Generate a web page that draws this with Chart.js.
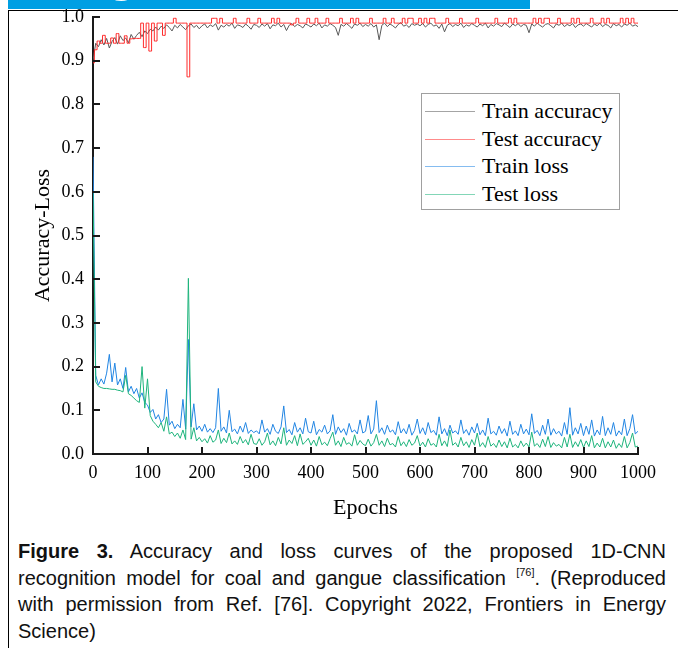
<!DOCTYPE html>
<html>
<head>
<meta charset="utf-8">
<script src="https://cdn.jsdelivr.net/npm/chart.js@4.4.0/dist/chart.umd.min.js"></script>
<style>
  body { margin:0; width:678px; height:648px; background:#fff; position:relative; overflow:hidden; }
  #band { position:absolute; left:8px; top:0; width:522px; height:9px; background:#009fe3; overflow:hidden; z-index:2; }
  #band span { position:absolute; left:96px; top:-66px; font:64px/1 'Liberation Sans', Arial, sans-serif; color:#fff; }
  .rule { position:absolute; background:#000; z-index:2; }
  #chartBox { position:absolute; left:0; top:0; width:678px; height:530px; }
  #legend { position:absolute; left:421px; top:93px; width:197px; height:115px; border:1px solid #a0a0a0; background:#fff;
            font:22px 'Liberation Serif', 'Times New Roman', serif; color:#000; }
  #legend .row { position:absolute; left:0; height:26px; line-height:26px; white-space:nowrap; }
  #legend .smp { position:absolute; left:3px; top:13px; width:50px; height:1px; }
  #legend .txt { position:absolute; left:60px; top:0; }
  #caption { position:absolute; left:18px; top:538px; width:648px; font:20px 'Liberation Sans', Arial, sans-serif; line-height:26.5px; color:#111; }
  #caption .ln { text-align:justify; text-align-last:justify; }
  #caption sup { font-size:11px; line-height:0; vertical-align:9px; }
</style>
</head>
<body>
<div id="band"><span>g</span></div>
<div class="rule" style="left:8px;top:10px;width:670px;height:1px"></div>
<div class="rule" style="left:8px;top:10px;width:1px;height:638px"></div>
<div id="chartBox"><canvas id="accLossChart" width="678" height="530"></canvas></div>
<div id="legend"></div>
<div id="caption">
  <div class="ln"><b>Figure 3.</b> Accuracy and loss curves of the proposed 1D-CNN</div>
  <div class="ln">recognition model for coal and gangue classification <sup>[76]</sup>. (Reproduced</div>
  <div class="ln">with permission from Ref. [76]. Copyright 2022, Frontiers in Energy</div>
  <div>Science)</div>
</div>

<script>
// ================================================================
// Accuracy / loss curves — one value every 5 epochs (0 … 1000)
// ================================================================

const EPOCH_STEP = 5;
const SERIES_NAMES = ['Train accuracy', 'Test accuracy', 'Train loss', 'Test loss'];
const SERIES_COLORS = ['#595959', '#ff2b2b', '#2185e3', '#1eb47c'];
const X_TICK_STEP = 100;
const Y_TICK_STEP = 0.1;

const TRAIN_ACC = [
  0.900, 0.940, 0.932, 0.948, 0.936, 0.951, 0.929, 0.944, 0.953, 0.938, 0.957, 0.946, 0.952, 0.941, 0.960, 0.949, 0.958, 0.965, 0.955, 0.968,
  0.962, 0.972, 0.968, 0.977, 0.970, 0.979, 0.974, 0.982, 0.976, 0.968, 0.981, 0.975, 0.983, 0.977, 0.971, 0.980, 0.984, 0.976, 0.981, 0.973,
  0.980, 0.984, 0.975, 0.982, 0.978, 0.985, 0.970, 0.981, 0.977, 0.983, 0.979, 0.986, 0.974, 0.982, 0.980, 0.976, 0.984, 0.979, 0.972, 0.983,
  0.981, 0.976, 0.984, 0.979, 0.985, 0.973, 0.982, 0.980, 0.986, 0.977, 0.983, 0.969, 0.981, 0.985, 0.978, 0.983, 0.980, 0.975, 0.984, 0.981,
  0.977, 0.984, 0.980, 0.986, 0.975, 0.982, 0.979, 0.985, 0.981, 0.976, 0.958, 0.983, 0.979, 0.985, 0.980, 0.974, 0.984, 0.981, 0.986, 0.978,
  0.983, 0.979, 0.985, 0.977, 0.982, 0.948, 0.981, 0.986, 0.978, 0.984, 0.980, 0.975, 0.983, 0.987, 0.979, 0.982, 0.976, 0.985, 0.981, 0.984,
  0.980, 0.985, 0.977, 0.983, 0.986, 0.979, 0.982, 0.974, 0.984, 0.966, 0.981, 0.985, 0.978, 0.983, 0.980, 0.986, 0.976, 0.982, 0.979, 0.985,
  0.981, 0.977, 0.984, 0.980, 0.986, 0.975, 0.983, 0.979, 0.985, 0.982, 0.978, 0.986, 0.981, 0.976, 0.984, 0.980, 0.985, 0.978, 0.983, 0.981,
  0.964, 0.984, 0.979, 0.986, 0.981, 0.977, 0.983, 0.985, 0.980, 0.975, 0.984, 0.981, 0.986, 0.978, 0.983, 0.980, 0.985, 0.976, 0.982, 0.984,
  0.979, 0.985, 0.981, 0.977, 0.984, 0.980, 0.986, 0.978, 0.983, 0.981, 0.975, 0.985, 0.980, 0.983, 0.977, 0.984, 0.981, 0.986, 0.979, 0.982,
  0.978
];

const TEST_ACC = [
  0.895, 0.925, 0.945, 0.940, 0.958, 0.940, 0.940, 0.952, 0.940, 0.962, 0.940, 0.940, 0.957, 0.940, 0.950, 0.951, 0.951, 0.951, 0.986, 0.930,
  0.986, 0.922, 0.986, 0.945, 0.986, 0.986, 0.958, 0.986, 0.986, 0.986, 0.997, 0.986, 0.986, 0.986, 0.986, 0.863, 0.986, 0.986, 0.986, 0.986,
  0.986, 0.986, 0.986, 0.986, 0.997, 0.997, 0.986, 0.997, 0.986, 0.986, 0.986, 0.986, 0.997, 0.986, 0.986, 0.986, 0.986, 0.997, 0.986, 0.986,
  0.986, 0.997, 0.986, 0.986, 0.986, 0.986, 0.997, 0.986, 0.997, 0.986, 0.986, 0.986, 0.986, 0.982, 0.986, 0.997, 0.986, 0.986, 0.986, 0.997,
  0.986, 0.986, 0.997, 0.986, 0.986, 0.986, 0.997, 0.986, 0.986, 0.986, 0.986, 0.997, 0.986, 0.986, 0.986, 0.997, 0.986, 0.997, 0.986, 0.986,
  0.986, 0.986, 0.997, 0.986, 0.986, 0.986, 0.986, 0.997, 0.986, 0.986, 0.997, 0.986, 0.986, 0.986, 0.997, 0.986, 0.997, 0.997, 0.986, 0.986,
  0.997, 0.986, 0.997, 0.986, 0.997, 0.997, 0.986, 0.986, 0.986, 0.986, 0.997, 0.986, 0.986, 0.986, 0.986, 0.997, 0.986, 0.986, 0.986, 0.986,
  0.986, 0.997, 0.986, 0.986, 0.986, 0.986, 0.986, 0.986, 0.997, 0.986, 0.986, 0.986, 0.986, 0.997, 0.986, 0.997, 0.986, 0.986, 0.986, 0.986,
  0.986, 0.986, 0.997, 0.986, 0.997, 0.986, 0.997, 0.997, 0.986, 0.986, 0.986, 0.997, 0.986, 0.986, 0.986, 0.986, 0.997, 0.986, 0.997, 0.986,
  0.986, 0.986, 0.986, 0.997, 0.986, 0.986, 0.986, 0.997, 0.986, 0.997, 0.986, 0.986, 0.986, 0.986, 0.997, 0.986, 0.997, 0.986, 0.997, 0.986,
  0.986
];

const TRAIN_LOSS = [
  0.680, 0.180, 0.158, 0.172, 0.160, 0.185, 0.228, 0.165, 0.208, 0.158, 0.172, 0.150, 0.198, 0.142, 0.155, 0.138, 0.150, 0.128, 0.140, 0.118,
  0.112, 0.095, 0.102, 0.080, 0.090, 0.072, 0.080, 0.148, 0.066, 0.075, 0.058, 0.068, 0.060, 0.125, 0.057, 0.262, 0.062, 0.115, 0.055, 0.064,
  0.052, 0.068, 0.050, 0.058, 0.049, 0.060, 0.150, 0.052, 0.062, 0.048, 0.100, 0.051, 0.057, 0.046, 0.064, 0.050, 0.072, 0.047, 0.055, 0.049,
  0.053, 0.046, 0.078, 0.050, 0.058, 0.045, 0.068, 0.052, 0.047, 0.062, 0.110, 0.049, 0.056, 0.044, 0.072, 0.050, 0.060, 0.046, 0.082, 0.051,
  0.048, 0.075, 0.044, 0.056, 0.050, 0.066, 0.046, 0.053, 0.090, 0.045, 0.062, 0.049, 0.058, 0.043, 0.070, 0.050, 0.055, 0.046, 0.078, 0.048,
  0.052, 0.088, 0.046, 0.057, 0.122, 0.049, 0.060, 0.045, 0.066, 0.050, 0.055, 0.044, 0.074, 0.048, 0.058, 0.046, 0.068, 0.043, 0.054, 0.080,
  0.047, 0.060, 0.044, 0.072, 0.049, 0.054, 0.043, 0.085, 0.046, 0.058, 0.042, 0.066, 0.048, 0.053, 0.045, 0.078, 0.047, 0.056, 0.043, 0.062,
  0.048, 0.070, 0.044, 0.055, 0.042, 0.082, 0.046, 0.052, 0.043, 0.064, 0.047, 0.058, 0.041, 0.075, 0.045, 0.053, 0.042, 0.068, 0.046, 0.057,
  0.044, 0.092, 0.047, 0.054, 0.042, 0.066, 0.045, 0.080, 0.043, 0.058, 0.046, 0.052, 0.041, 0.072, 0.045, 0.106, 0.043, 0.060, 0.046, 0.070,
  0.042, 0.064, 0.045, 0.078, 0.041, 0.055, 0.044, 0.086, 0.042, 0.060, 0.045, 0.072, 0.041, 0.053, 0.044, 0.080, 0.042, 0.058, 0.090, 0.046,
  0.052
];

const TEST_LOSS = [
  0.600, 0.165, 0.155, 0.152, 0.150, 0.150, 0.149, 0.148, 0.148, 0.146, 0.145, 0.142, 0.180, 0.138, 0.134, 0.128, 0.122, 0.118, 0.200, 0.105,
  0.172, 0.088, 0.075, 0.068, 0.060, 0.072, 0.052, 0.085, 0.046, 0.050, 0.040, 0.048, 0.036, 0.055, 0.033, 0.402, 0.034, 0.060, 0.030, 0.038,
  0.028, 0.035, 0.025, 0.042, 0.027, 0.032, 0.055, 0.024, 0.036, 0.026, 0.048, 0.023, 0.030, 0.022, 0.040, 0.025, 0.033, 0.021, 0.045, 0.024,
  0.022, 0.035, 0.020, 0.028, 0.048, 0.021, 0.030, 0.019, 0.038, 0.023, 0.060, 0.020, 0.032, 0.024, 0.042, 0.019, 0.046, 0.022, 0.028, 0.036,
  0.020, 0.032, 0.018, 0.040, 0.021, 0.027, 0.019, 0.035, 0.050, 0.020, 0.030, 0.017, 0.038, 0.022, 0.026, 0.018, 0.044, 0.020, 0.031, 0.023,
  0.019, 0.034, 0.018, 0.026, 0.045, 0.020, 0.030, 0.017, 0.036, 0.021, 0.024, 0.016, 0.040, 0.019, 0.028, 0.017, 0.033, 0.020, 0.025, 0.042,
  0.018, 0.027, 0.016, 0.035, 0.020, 0.024, 0.016, 0.045, 0.019, 0.030, 0.017, 0.055, 0.020, 0.026, 0.016, 0.038, 0.019, 0.028, 0.015, 0.033,
  0.020, 0.048, 0.017, 0.026, 0.015, 0.040, 0.018, 0.024, 0.015, 0.032, 0.017, 0.028, 0.014, 0.036, 0.016, 0.022, 0.014, 0.030, 0.017, 0.025,
  0.016, 0.050, 0.018, 0.024, 0.015, 0.034, 0.017, 0.040, 0.015, 0.026, 0.018, 0.022, 0.014, 0.038, 0.016, 0.045, 0.015, 0.028, 0.017, 0.033,
  0.015, 0.030, 0.017, 0.042, 0.014, 0.025, 0.016, 0.036, 0.014, 0.028, 0.016, 0.032, 0.013, 0.024, 0.015, 0.040, 0.014, 0.026, 0.048, 0.016,
  0.018
];

const EPOCHS = TRAIN_ACC.map((_, i) => i * EPOCH_STEP);

const SERIF = "'Liberation Serif', 'Times New Roman', serif";
const AXIS_COLOR = '#1a1a1a';

function pontos(valores) {
  return EPOCHS.map((e, i) => ({ x: e, y: valores[i] }));
}

// ── Ticks desenhados para dentro do gráfico ──────────────
const innerTicks = {
  id: 'innerTicks',
  afterDraw(chart) {
    const { ctx, chartArea: a, scales: { x, y } } = chart;
    ctx.save();
    ctx.strokeStyle = AXIS_COLOR;
    ctx.lineWidth = 2;
    ctx.beginPath();
    x.ticks.forEach(t => {
      const px = Math.round(x.getPixelForValue(t.value));
      ctx.moveTo(px, a.bottom);
      ctx.lineTo(px, a.bottom - 7);
    });
    y.ticks.forEach(t => {
      const py = Math.round(y.getPixelForValue(t.value));
      ctx.moveTo(a.left, py);
      ctx.lineTo(a.left + 7, py);
    });
    ctx.stroke();
    ctx.restore();
  }
};

const series = [TRAIN_ACC, TEST_ACC, TRAIN_LOSS, TEST_LOSS];

const chart = new Chart(document.getElementById('accLossChart'), {
  type: 'line',
  data: {
    datasets: series.map((vals, i) => ({
      label: SERIES_NAMES[i],
      data: pontos(vals),
      borderColor: SERIES_COLORS[i],
      borderWidth: 1,
      pointRadius: 0,
      tension: 0,
      stepped: i === 1 ? 'middle' : false,
      order: 3 - i,
    })),
  },
  options: {
    responsive: false,
    animation: false,
    devicePixelRatio: 1,
    layout: { padding: { left: 0, right: 40, top: 17, bottom: 0 } },
    plugins: { legend: { display: false }, tooltip: { enabled: false } },
    scales: {
      x: {
        type: 'linear', min: 0, max: 1000,
        grid: { display: false, drawTicks: false },
        border: { display: true, color: AXIS_COLOR, width: 2 },
        ticks: { stepSize: X_TICK_STEP, padding: 8, maxRotation: 0, color: '#000',
                 font: { family: SERIF, size: 18 }, callback: v => String(v) },
        title: { display: true, text: 'Epochs', color: '#000',
                 font: { family: SERIF, size: 22 }, padding: { top: 0, bottom: 9 } },
        afterFit(s) { s.height = 76; s.paddingLeft = 0; s.paddingRight = 0; },
      },
      y: {
        min: 0, max: 1,
        grid: { display: false, drawTicks: false },
        border: { display: true, color: AXIS_COLOR, width: 2 },
        ticks: { stepSize: Y_TICK_STEP, padding: 9, color: '#000',
                 font: { family: SERIF, size: 18 }, callback: v => v.toFixed(1) },
        title: { display: true, text: 'Accuracy-Loss', color: '#000',
                 font: { family: SERIF, size: 22 }, padding: { top: 30, bottom: 0 } },
        afterFit(s) { s.width = 93; s.paddingTop = 0; s.paddingBottom = 0; },
      },
    },
  },
  plugins: [innerTicks],
});

// ── Legenda (caixa dentro do gráfico) ─────────────────────
const elLegend = document.getElementById('legend');
elLegend.innerHTML = chart.data.datasets.map((ds, i) => `
  <div class="row" style="top:${4 + i * 27.5}px">
    <div class="smp" style="background:${ds.borderColor};opacity:0.55"></div>
    <div class="txt">${ds.label}</div>
  </div>`).join('');
</script>
</body>
</html>
